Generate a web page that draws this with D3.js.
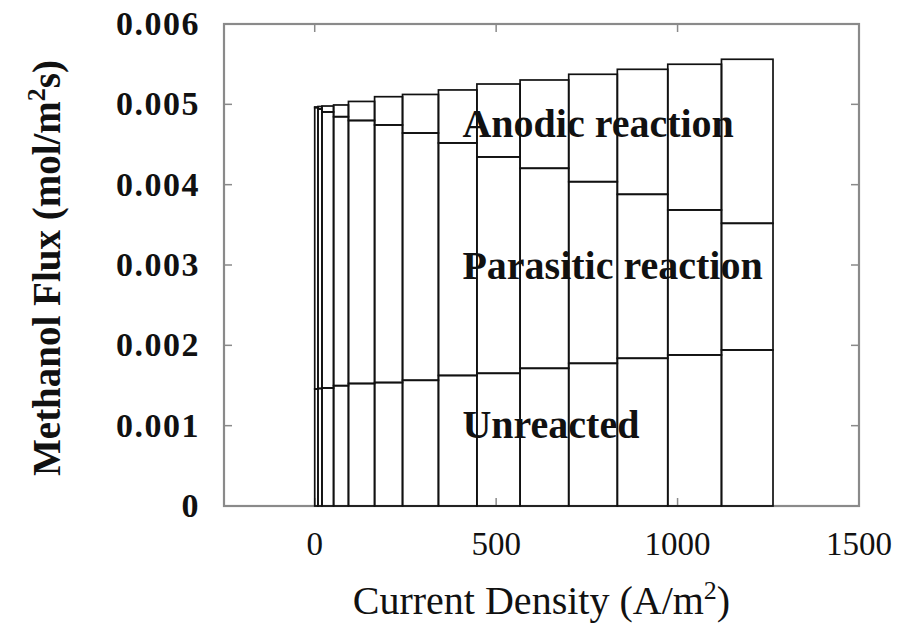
<!DOCTYPE html>
<html>
<head>
<meta charset="utf-8">
<script src="https://cdn.jsdelivr.net/npm/d3@7"></script>
<style>
  html, body { margin: 0; padding: 0; background: #fff; }
  svg { display: block; }
</style>
</head>
<body>
<svg id="chart" width="916" height="625"></svg>
<script>
// ---- data ----
// bin edges of the current density (A/m^2); bar i spans edges[i]..edges[i+1]
const densityEdges = [0, 9, 20, 52, 93, 165, 242, 341, 447, 566, 700, 834, 973, 1121, 1263];
const unreacted = [0.001456, 0.001463, 0.001469, 0.001498, 0.001525, 0.001537, 0.001565, 0.001625, 0.001652, 0.001714, 0.001776, 0.001839, 0.001880, 0.001942];
const parasitic = [0.003504, 0.003479, 0.003436, 0.003348, 0.003274, 0.003206, 0.003078, 0.002894, 0.002693, 0.002490, 0.002261, 0.002041, 0.001805, 0.001577];
const anodic    = [0.000007, 0.000031, 0.000074, 0.000146, 0.000237, 0.000352, 0.000480, 0.000660, 0.000908, 0.001099, 0.001337, 0.001556, 0.001814, 0.002042];
const seriesKeys = ["unreacted", "parasitic", "anodic"];
const regionLabels = ["Unreacted", "Parasitic reaction", "Anodic reaction"];
const regionLabelX = [407, 407, 407];
const regionLabelY = [0.000843, 0.002822, 0.004597];
const xTicks = [0, 500, 1000, 1500];
const yTicks = [0, 0.001, 0.002, 0.003, 0.004, 0.005, 0.006];
const xDomain = [-250, 1500];
const yDomain = [0, 0.006];

(function () {
// ---- layout ----
const svg = d3.select("#chart");
const mLeft = 224, mRight = 859, mTop = 24, mBottom = 506;
const x = d3.scaleLinear().domain(xDomain).range([mLeft, mRight]);
const y = d3.scaleLinear().domain(yDomain).range([mBottom, mTop]);

const rows = unreacted.map((u, i) => ({
  x0: densityEdges[i], x1: densityEdges[i + 1],
  unreacted: u, parasitic: parasitic[i], anodic: anodic[i]
}));
const stacked = d3.stack().keys(seriesKeys)(rows);

const frameColor = "#8a8a8a";

// ticks (inward) and frame
const g = svg.append("g");
const tickLen = 8;
yTicks.forEach(t => {
  g.append("line").attr("x1", mLeft).attr("x2", mLeft + tickLen).attr("y1", y(t)).attr("y2", y(t))
    .attr("stroke", frameColor).attr("stroke-width", 1.5);
  g.append("line").attr("x1", mRight).attr("x2", mRight - tickLen).attr("y1", y(t)).attr("y2", y(t))
    .attr("stroke", frameColor).attr("stroke-width", 1.5);
});
xTicks.forEach(t => {
  g.append("line").attr("x1", x(t)).attr("x2", x(t)).attr("y1", mBottom).attr("y2", mBottom - tickLen)
    .attr("stroke", frameColor).attr("stroke-width", 1.5);
  g.append("line").attr("x1", x(t)).attr("x2", x(t)).attr("y1", mTop).attr("y2", mTop + tickLen)
    .attr("stroke", frameColor).attr("stroke-width", 1.5);
});
g.append("rect").attr("x", mLeft).attr("y", mTop).attr("width", mRight - mLeft).attr("height", mBottom - mTop)
  .attr("fill", "none").attr("stroke", frameColor).attr("stroke-width", 2.2);

// bars
svg.append("g").selectAll("g").data(stacked).join("g")
  .selectAll("rect").data(d => d).join("rect")
  .attr("x", d => x(d.data.x0))
  .attr("width", d => x(d.data.x1) - x(d.data.x0))
  .attr("y", d => y(d[1]))
  .attr("height", d => y(d[0]) - y(d[1]))
  .attr("fill", "none")
  .attr("stroke", "#111")
  .attr("stroke-width", 1.7);

// region labels
svg.append("g").selectAll("text").data(regionLabels).join("text")
  .attr("x", (d, i) => x(regionLabelX[i]))
  .attr("y", (d, i) => y(regionLabelY[i]))
  .attr("font-family", "'Liberation Serif', 'DejaVu Serif', serif")
  .attr("font-weight", "bold")
  .attr("font-size", 40)
  .attr("fill", "#111")
  .text(d => d);

// y tick labels
svg.append("g").selectAll("text").data(yTicks).join("text")
  .attr("x", 200)
  .attr("y", d => y(d) + 11)
  .attr("text-anchor", "end")
  .attr("font-family", "'Liberation Serif', serif")
  .attr("font-weight", "bold")
  .attr("font-size", 34)
  .attr("letter-spacing", 1.5)
  .attr("fill", "#111")
  .text(d => d === 0 ? "0" : d3.format(".3f")(d));

// x tick labels
svg.append("g").selectAll("text").data(xTicks).join("text")
  .attr("x", d => x(d))
  .attr("y", 555)
  .attr("text-anchor", "middle")
  .attr("font-family", "'Liberation Serif', serif")
  .attr("font-size", 33)
  .attr("fill", "#111")
  .text(d => d);

// axis titles
const xt = svg.append("text")
  .attr("x", (mLeft + mRight) / 2)
  .attr("y", 614)
  .attr("text-anchor", "middle")
  .attr("font-family", "'Liberation Serif', serif")
  .attr("font-size", 40)
  .attr("fill", "#111");
xt.append("tspan").text("Current Density (A/m");
xt.append("tspan").attr("dy", -15).attr("font-size", 26).text("2");
xt.append("tspan").attr("dy", 15).text(")");

const yt = svg.append("text")
  .attr("transform", `translate(60, ${(mTop + mBottom) / 2 + 3}) rotate(-90)`)
  .attr("text-anchor", "middle")
  .attr("font-family", "'Liberation Serif', serif")
  .attr("font-weight", "bold")
  .attr("font-size", 39)
  .attr("fill", "#111");
yt.append("tspan").text("Methanol Flux (mol/m");
yt.append("tspan").attr("dy", -15).attr("font-size", 26).text("2");
yt.append("tspan").attr("dy", 15).text("s)");
})();
</script>
</body>
</html>
